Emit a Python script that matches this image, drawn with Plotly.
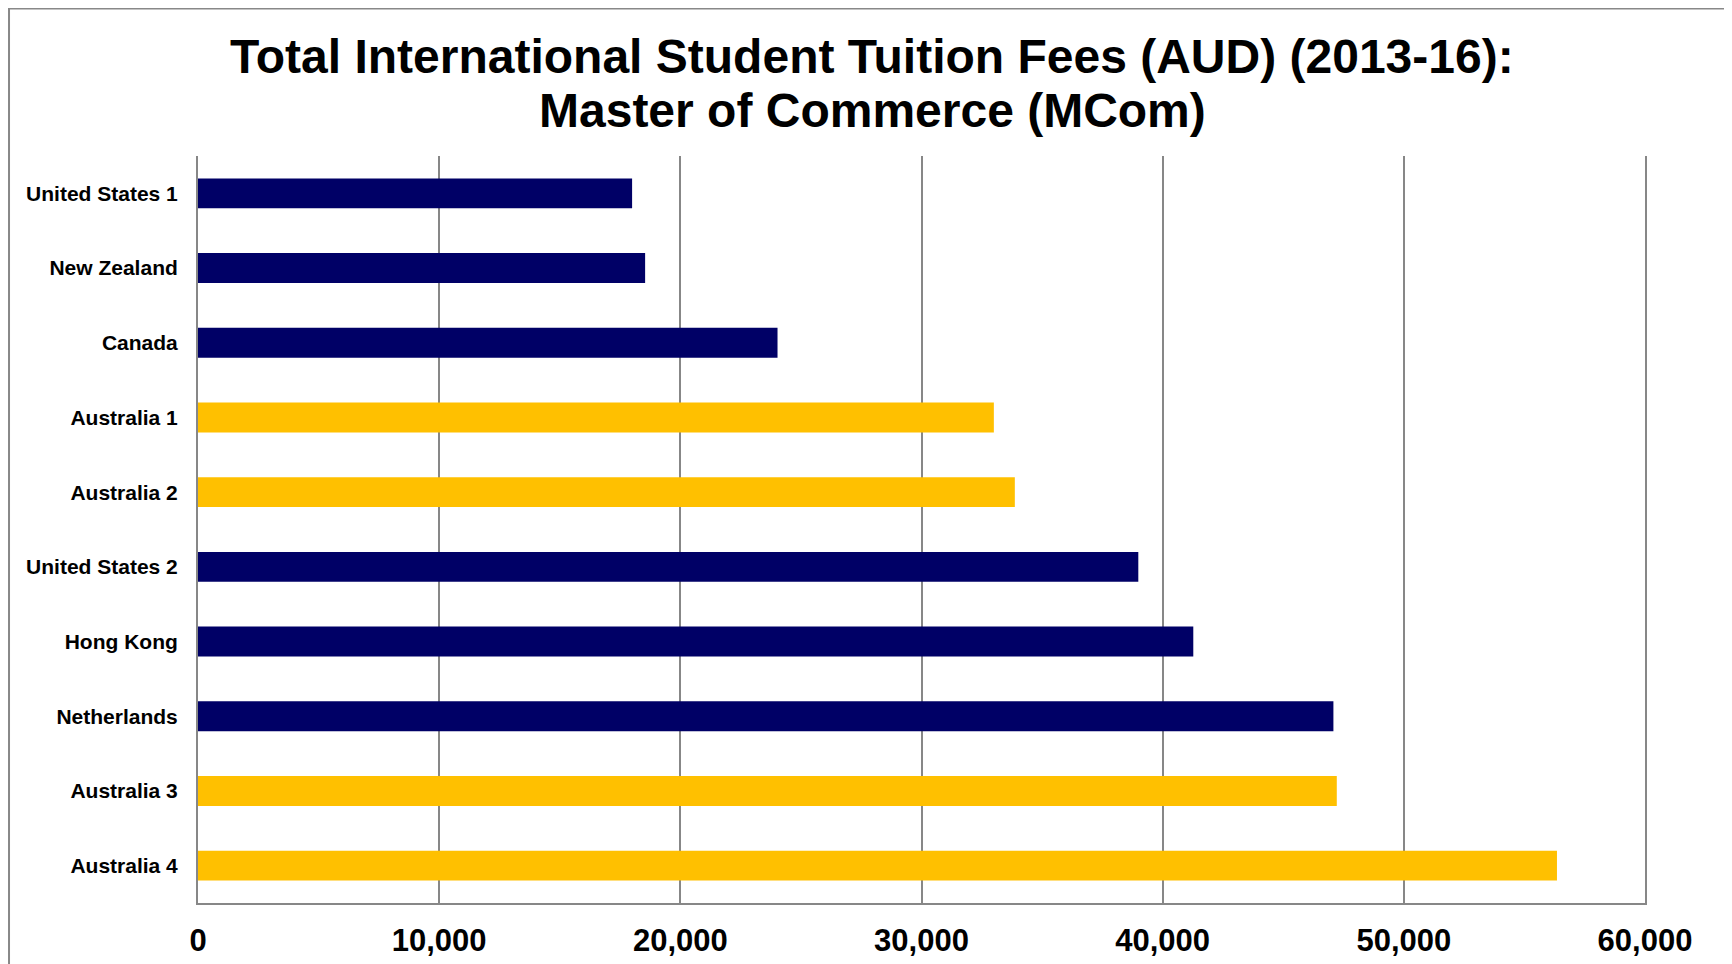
# 学费横向条形图
import plotly.graph_objects as go

# 数据（自上而下）
programs = ["United States 1", "New Zealand", "Canada", "Australia 1", "Australia 2",
            "United States 2", "Hong Kong", "Netherlands", "Australia 3", "Australia 4"]
fees = [18000, 18540, 24030, 33000, 33870, 38990, 41270, 47080, 47220, 56350]
is_australia = [False, False, False, True, True, False, False, False, True, True]
title_lines = ["Total International Student Tuition Fees (AUD) (2013-16):",
               "Master of Commerce (MCom)"]

navy = "#000066"
gold = "#FFC000"
colors = [gold if a else navy for a in is_australia]

font_family = "Liberation Sans, Arial, sans-serif"

fig = go.Figure(go.Bar(
    y=programs,
    x=fees,
    orientation="h",
    width=0.4,
    marker=dict(color=colors, line=dict(width=0)),
    hoverinfo="x+y",
))

# 页面自带 8px 边距，尺寸与边距相应减小
fig.update_layout(
    width=1724,
    height=956,
    margin=dict(l=190, r=87, t=148, b=61, autoexpand=False),
    plot_bgcolor="white",
    paper_bgcolor="white",
    showlegend=False,
    font=dict(family=font_family, color="black"),
)

# 标题两行分开放，行距比默认更紧
for text, ypos in zip(title_lines, [1.1330, 1.0603]):
    fig.add_annotation(
        text=f"<b>{text}</b>",
        xref="paper", yref="paper",
        x=0.4658, y=ypos,
        xanchor="center", yanchor="middle",
        showarrow=False,
        font=dict(family=font_family, size=48, color="black"),
    )

fig.update_xaxes(
    range=[0, 60000],
    dtick=10000,
    tickformat=",d",
    showgrid=True,
    gridcolor="#878787",
    gridwidth=2,
    showline=True,
    linecolor="#878787",
    linewidth=2,
    zeroline=False,
    ticks="",
    automargin=False,
    ticklabelstandoff=9,
    tickfont=dict(family=font_family, size=31, color="black", weight="bold"),
)

fig.update_yaxes(
    autorange="reversed",
    showgrid=False,
    showline=True,
    mirror=True,
    linecolor="#878787",
    linewidth=2,
    ticks="",
    automargin=False,
    ticklabelstandoff=14,
    tickfont=dict(family=font_family, size=21, color="black", weight="bold"),
)

# 外框
fig.add_shape(
    type="rect", xref="paper", yref="paper",
    x0=-0.1306, x1=1.2, y0=-0.2, y1=1.1975,
    line=dict(color="#888888", width=2),
    fillcolor="rgba(0,0,0,0)",
    layer="below",
)

fig.write_html("out.html")
